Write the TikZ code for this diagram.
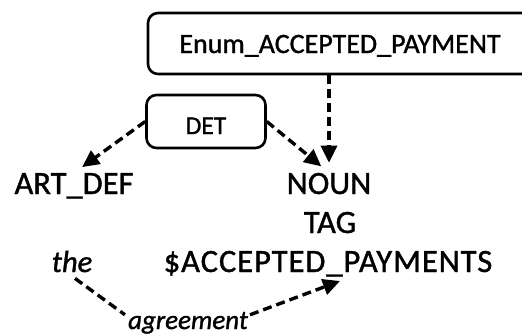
\documentclass[tikz,border=0pt]{standalone}
\usepackage{fontspec}
\setmainfont{Carlito}[FakeBold=1.2]
\usetikzlibrary{arrows.meta}
\begin{document}
\begin{tikzpicture}[x=1pt,y=-1pt,
  dashline/.style={line width=3.4pt, dash pattern=on 9pt off 5pt},
  conn/.style={dashline, -{Triangle[length=17pt,width=16pt]}},
  box/.style={draw, line width=2.6pt, rounded corners=10pt, inner xsep=0pt, inner ysep=0pt},
  lbl/.style={inner sep=0pt, anchor=base, font=\fontsize{32.5}{32.5}\selectfont}]
\useasboundingbox (0,0) rectangle (522,335);
\clip (0,0) rectangle (522,335);
% boxes
\node[box, anchor=base, minimum width=384pt, text height=40pt, text depth=21pt,
      font=\fontsize{28}{28}\selectfont] (enum) at (340,53) {Enum\_ACCEPTED\_PAYMENT};
\node[box, anchor=base, minimum width=119pt, text height=39pt, text depth=14pt,
      font=\fontsize{25.5}{25.5}\selectfont] (det) at (206,134) {DET};
% words
\node[lbl] (art) at (74,194) {ART\_DEF};
\node[lbl] (noun) at (329,194) {NOUN};
\node[lbl] (tag) at (330,233) {TAG};
\node[lbl, font=\fontsize{30.5}{30.5}\selectfont\itshape] (the) at (72,272) {the};
\node[lbl, font=\fontsize{32.5}{32.5}\selectfont\addfontfeature{LetterSpace=3}] (acc) at (328,272) {\$ACCEPTED\_PAYMENTS};
\node[lbl, font=\fontsize{27}{27}\selectfont\itshape] (agr) at (188,329) {agreement};
\coordinate (accin) at (340,281);
% connectors
\draw[conn, shorten >=10pt] (det.west) -- (art.north);
\draw[conn, shorten >=10pt] (det.east) -- (noun.north);
\draw[conn, shorten >=10pt] (enum.south -| noun.north) -- (noun.north);
\draw[dashline] ([xshift=3pt,yshift=-6pt]the.south) -- ([xshift=-3pt,yshift=8pt]agr.west);
\draw[conn] ([xshift=2pt,yshift=8pt]agr.east) -- (accin);
\end{tikzpicture}
\end{document}
